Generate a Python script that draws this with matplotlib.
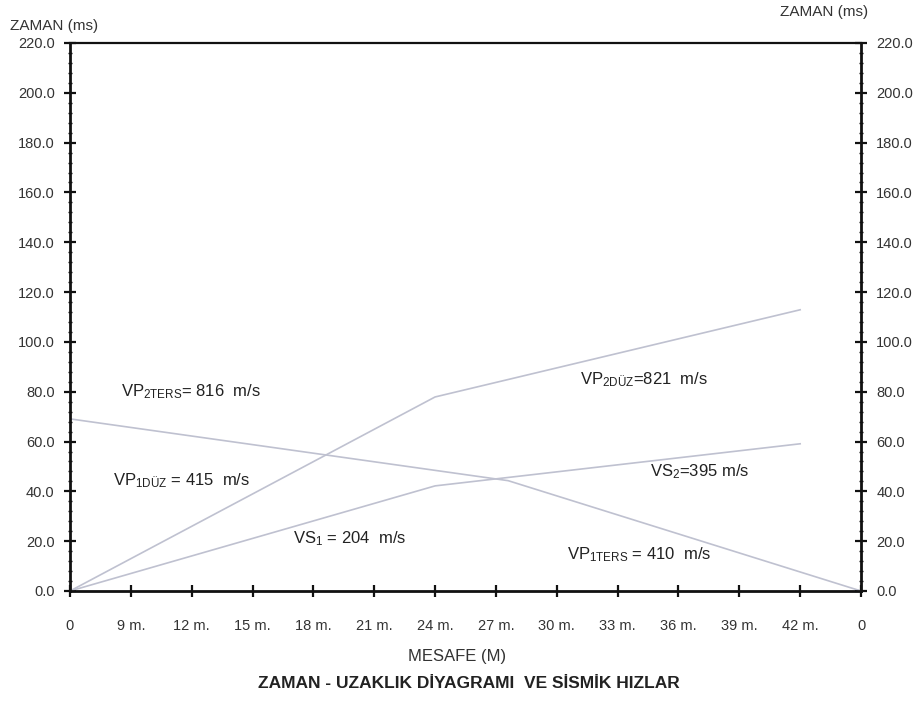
import matplotlib
matplotlib.use('Agg')
import matplotlib.pyplot as plt
from matplotlib.ticker import MultipleLocator, FormatStrFormatter

plt.rcParams['font.family'] = ['Liberation Sans', 'DejaVu Sans']
plt.rcParams['mathtext.fontset'] = 'custom'
plt.rcParams['mathtext.rm'] = 'Liberation Sans'
plt.rcParams['mathtext.it'] = 'Liberation Sans:italic'
plt.rcParams['mathtext.bf'] = 'Liberation Sans:bold'

# x axis: geophone positions (tick index) and their labels
x_labels = ['0', '9 m.', '12 m.', '15 m.', '18 m.', '21 m.', '24 m.', '27 m.',
            '30 m.', '33 m.', '36 m.', '39 m.', '42 m.', '0']

# forward shot (düz) P wave
vp_duz_x = [0, 6, 12]
vp_duz_t = [0, 77.9, 112.9]
# forward shot S wave
vs_x = [0, 6, 12]
vs_t = [0, 42.2, 59.1]
# reverse shot (ters) P wave
vp_ters_x = [13, 7.2, 0]
vp_ters_t = [0, 44.3, 69.1]

line_color = '#bfc1d0'

fig = plt.figure(figsize=(9.16, 7.02), dpi=100)
ax = fig.add_axes([70/916, 1-591/702, (861-70)/916, (591-43)/702])

ax.plot(vp_duz_x, vp_duz_t, color=line_color, lw=1.2)
ax.plot(vs_x, vs_t, color=line_color, lw=1.2)
ax.plot(vp_ters_x, vp_ters_t, color=line_color, lw=1.2)

ax.set_xlim(0, 13)
ax.set_ylim(0, 220)
ax.set_xticks(range(len(x_labels)))
ax.set_xticklabels(x_labels, fontsize=10.5, color='#222222')
ax.yaxis.set_major_locator(MultipleLocator(20))
ax.yaxis.set_minor_locator(MultipleLocator(4))
ax.yaxis.set_major_formatter(FormatStrFormatter('%.1f'))

for s in ax.spines.values():
    s.set_linewidth(2.0)
    s.set_color('#111111')
ax.spines['top'].set_linewidth(1.6)

ax.tick_params(axis='y', which='major', direction='inout', length=8, width=1.6,
               left=True, right=True, labelleft=True, labelright=True,
               labelsize=10.5, pad=7, colors='#111111', labelcolor='#333333')
ax.tick_params(axis='y', which='minor', direction='inout', length=3.5, width=1.0,
               left=True, right=True, colors='#111111')
ax.tick_params(axis='x', which='major', direction='inout', length=8, width=1.6,
               pad=16, colors='#111111', labelcolor='#333333')

# velocity labels
txt = dict(fontsize=12, color='#222222', va='center', ha='left')
ax.text(0.84, 80, r'VP$_{\mathregular{2TERS}}$= 816  m/s', **txt)
ax.text(0.70, 44.5, r'VP$_{\mathregular{1DÜZ}}$ = 415  m/s', **txt)
ax.text(3.66, 21, r'VS$_{\mathregular{1}}$ = 204  m/s', **txt)
ax.text(8.39, 84.7, r'VP$_{\mathregular{2DÜZ}}$=821  m/s', **txt)
ax.text(9.53, 48, r'VS$_{\mathregular{2}}$=395 m/s', **txt)
ax.text(8.17, 14.6, r'VP$_{\mathregular{1TERS}}$ = 410  m/s', **txt)

# axis titles
fig.text(10/916, 1-26/702, 'ZAMAN (ms)', fontsize=11, color='#333333', ha='left', va='center')
fig.text(868/916, 1-12/702, 'ZAMAN (ms)', fontsize=11, color='#333333', ha='right', va='center')
fig.text(457/916, 1-656/702, 'MESAFE (M)', fontsize=12, color='#333333', ha='center', va='center')
fig.text(469/916, 1-684/702, 'ZAMAN - UZAKLIK DİYAGRAMI  VE SİSMİK HIZLAR', fontsize=12.5,
         fontweight='bold', color='#222222', ha='center', va='center')

fig.savefig('out.png', dpi=100, facecolor='white')
